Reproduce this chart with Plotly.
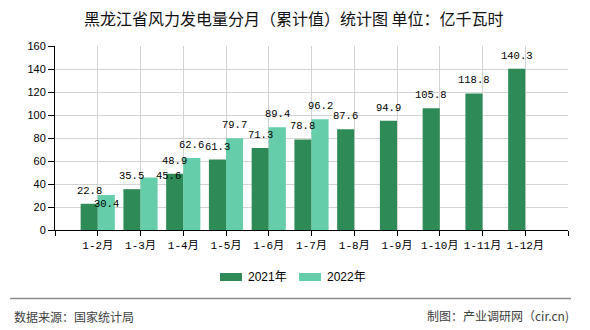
import plotly.graph_objects as go

# ---------------- data ----------------
months = ["1-2月", "1-3月", "1-4月", "1-5月", "1-6月", "1-7月",
          "1-8月", "1-9月", "1-10月", "1-11月", "1-12月"]
values_2021 = [22.8, 35.5, 48.9, 61.3, 71.3, 78.8, 87.6, 94.9, 105.8, 118.8, 140.3]
values_2022 = [30.4, 45.6, 62.6, 79.7, 89.4, 96.2]
series_names = ["2021年", "2022年"]
y_ticks = [0, 20, 40, 60, 80, 100, 120, 140, 160]

title_text = "黑龙江省风力发电量分月（累计值）统计图 单位：亿千瓦时"
source_text = "数据来源：国家统计局"
credit_text = "制图：产业调研网（cir.cn)"

# ---------------- style ----------------
W, H = 590, 330
M_L, M_R, M_T, M_B = 55, 22, 46, 100
PW, PH = W - M_L - M_R, H - M_T - M_B


def px_x(px):
    """pixel x (from left of page) -> paper coordinate"""
    return (px - M_L) / PW


def px_y(py):
    """pixel y (from top of page) -> paper coordinate"""
    return (H - M_B - py) / PH


colors = ["#2E8B57", "#66CDAA"]
cjk = "Noto Sans CJK SC"
mono = "Liberation Mono, " + cjk
sans = "Liberation Sans, Arial, " + cjk
bar_offset = 0.2           # half of a bar width in category units (bargap 0.2, two bars)
label_lift = 13            # px above bar top
# label nudges (px) for labels the original moved to avoid overlaps: (series, index) -> (dx, dy)
label_nudge = {(1, 0): (0, -21.5), (1, 1): (19.5, -11.4)}

xs = list(range(len(months)))

fig = go.Figure()
for s, vals in enumerate([values_2021, values_2022]):
    fig.add_trace(go.Bar(
        x=xs[:len(vals)], y=vals, name=series_names[s],
        marker=dict(color=colors[s], line=dict(width=0)),
        showlegend=False, hoverinfo="skip",
    ))

annotations = []
for s, vals in enumerate([values_2021, values_2022]):
    off = -bar_offset if s == 0 else bar_offset
    for i, v in enumerate(vals):
        dx, dy = label_nudge.get((s, i), (0, 0))
        annotations.append(dict(
            x=i + off, y=v, xref="x", yref="y", text=f"{v:.1f}",
            showarrow=False, xanchor="center", yanchor="middle",
            xshift=dx, yshift=label_lift + dy,
            font=dict(family=mono, size=10.5, color="#000000"),
        ))

# title
annotations.append(dict(
    x=px_x(294), y=px_y(18), xref="paper", yref="paper", text=title_text,
    showarrow=False, xanchor="center", yanchor="middle",
    font=dict(family=cjk, size=16, color="#111111"),
))
# footer texts
annotations.append(dict(
    x=px_x(12), y=px_y(316), xref="paper", yref="paper", text=source_text,
    showarrow=False, xanchor="left", yanchor="middle",
    font=dict(family=cjk, size=12, color="#404040"),
))
annotations.append(dict(
    x=px_x(571), y=px_y(315), xref="paper", yref="paper", text=credit_text,
    showarrow=False, xanchor="right", yanchor="middle",
    font=dict(family=cjk, size=12, color="#404040"),
))

# custom legend (wide flat swatches like the original)
legend_x = [220, 299]
shapes = []
for s, name in enumerate(series_names):
    x0 = legend_x[s]
    shapes.append(dict(type="rect", xref="paper", yref="paper",
                       x0=px_x(x0), x1=px_x(x0 + 22),
                       y0=px_y(281), y1=px_y(273),
                       fillcolor=colors[s], line=dict(width=0), layer="above"))
    annotations.append(dict(
        x=px_x(x0 + 26), y=px_y(277), xref="paper", yref="paper", text=name,
        showarrow=False, xanchor="left", yanchor="middle",
        font=dict(family=sans, size=12, color="#000000"),
    ))
# footer separator line
shapes.append(dict(type="line", xref="paper", yref="paper",
                   x0=px_x(10), x1=px_x(571), y0=px_y(298.5), y1=px_y(298.5),
                   line=dict(color="#8c8c8c", width=1.5)))

fig.update_layout(
    width=W, height=H,
    margin=dict(l=M_L, r=M_R, t=M_T, b=M_B, pad=0),
    paper_bgcolor="#ffffff", plot_bgcolor="#ffffff",
    barmode="group", bargap=0.2, bargroupgap=0,
    showlegend=False,
    annotations=annotations, shapes=shapes,
    xaxis=dict(
        type="linear", range=[-1, len(months)],
        tickvals=[-1] + xs + [len(months)],
        ticktext=[""] + months + [""],
        showgrid=True, gridcolor="#d3d3d3", gridwidth=1,
        showline=True, linecolor="#000000", linewidth=1,
        ticks="outside", ticklen=5, tickcolor="#000000",
        tickfont=dict(family=mono, size=11, color="#000000"),
        zeroline=False, fixedrange=True,
    ),
    yaxis=dict(
        range=[0, 160], tickvals=y_ticks,
        showgrid=True, gridcolor="#d3d3d3", gridwidth=1,
        showline=True, linecolor="#000000", linewidth=1,
        ticks="outside", ticklen=6, tickcolor="#000000",
        tickfont=dict(family=sans, size=11, color="#000000"),
        zeroline=False, fixedrange=True,
    ),
)

fig.write_html("out.html", config={"displayModeBar": False})
